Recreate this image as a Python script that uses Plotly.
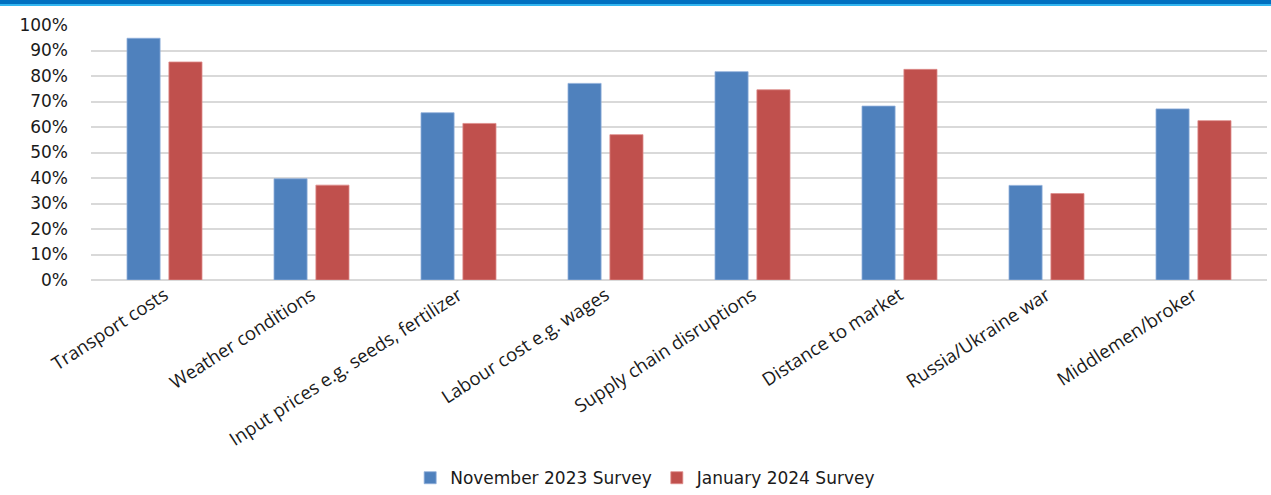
import plotly.graph_objects as go

# Survey results: share of respondents citing each factor
categories = [
    "Transport costs",
    "Weather conditions",
    "Input prices e.g. seeds, fertilizer",
    "Labour cost e.g. wages",
    "Supply chain disruptions",
    "Distance to market",
    "Russia/Ukraine war",
    "Middlemen/broker",
]
nov_2023 = [0.948, 0.397, 0.656, 0.771, 0.817, 0.682, 0.371, 0.671]
jan_2024 = [0.855, 0.372, 0.614, 0.570, 0.746, 0.826, 0.339, 0.625]

series_names = ["November 2023 Survey", "January 2024 Survey"]
y_ticks = [i / 10 for i in range(11)]

BLUE = "#4F81BD"
RED = "#C0504D"

fig = go.Figure()
fig.add_trace(go.Bar(
    x=categories, y=nov_2023, name=series_names[0],
    marker=dict(color=BLUE, line=dict(color="#8FAEDB", width=0.8)),
))
fig.add_trace(go.Bar(
    x=categories, y=jan_2024, name=series_names[1],
    marker=dict(color=RED, line=dict(color="#DE8C8A", width=0.8)),
))

fig.update_layout(
    width=1271, height=495,
    margin=dict(l=91, r=4, t=25, b=215),
    paper_bgcolor="white", plot_bgcolor="white",
    barmode="group", bargap=0.43, bargroupgap=0.21,
    font=dict(family="DejaVu Sans", color="#1a1a1a"),
    showlegend=True,
    legend=dict(
        orientation="h", xref="container", yref="container",
        x=0.508, xanchor="center", y=0.034, yanchor="middle",
        font=dict(family="DejaVu Sans", size=17, color="#1a1a1a"),
        itemwidth=30, traceorder="normal",
    ),
    xaxis=dict(
        tickangle=-33,
        tickfont=dict(family="Open Sans", size=18.5, color="#1a1a1a"),
        showgrid=False, showline=False, zeroline=False,
        ticks="",
    ),
    yaxis=dict(
        range=[0, 1.0], tickvals=y_ticks, tickformat=".0%",
        tickfont=dict(family="DejaVu Sans", size=17, color="#1a1a1a"),
        showgrid=True, gridcolor="#D9D9D9", gridwidth=2,
        zeroline=True, zerolinecolor="#D9D9D9", zerolinewidth=2,
        showline=False, ticks="", ticklabelstandoff=22,
    ),
    shapes=[
        # header band across the top of the page
        dict(type="rect", xref="paper", yref="paper", x0=-0.2, x1=1.1,
             ysizemode="pixel", yanchor=1, y0=21, y1=26,
             fillcolor="#0070C0", line=dict(width=0), layer="above"),
        dict(type="rect", xref="paper", yref="paper", x0=-0.2, x1=1.1,
             ysizemode="pixel", yanchor=1, y0=19, y1=21,
             fillcolor="#33B6F0", line=dict(width=0), layer="above"),
    ],
)

fig.write_html("out.html")
